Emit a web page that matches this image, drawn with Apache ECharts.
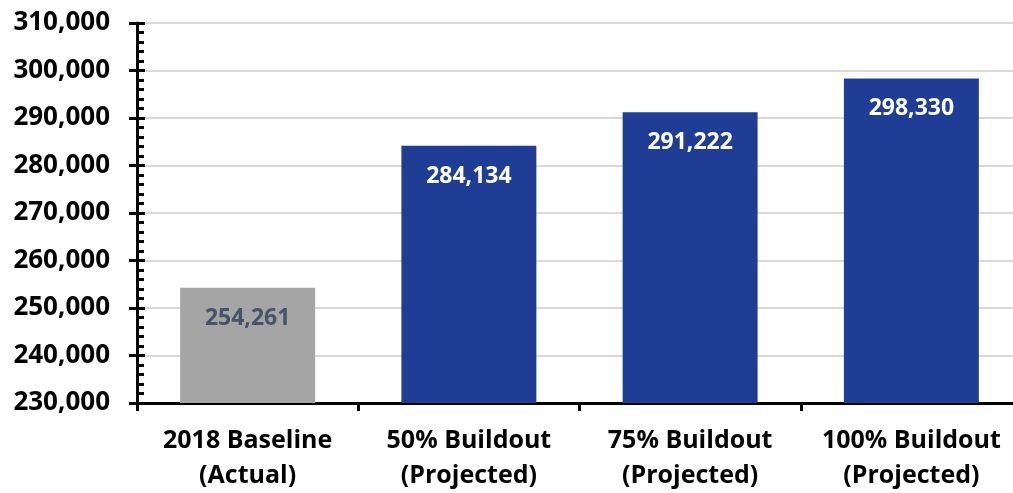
<!DOCTYPE html>
<html><head><meta charset="utf-8">
<script src="https://cdn.jsdelivr.net/npm/echarts@6/dist/echarts.min.js"></script>
<style>html,body{margin:0;padding:0;background:#fff;overflow:hidden;width:1013px;height:493px}#c{width:1030px;height:493px}</style>
</head><body><div id="c"></div>
<script>
var categories = ['2018 Baseline\n(Actual)', '50% Buildout\n(Projected)', '75% Buildout\n(Projected)', '100% Buildout\n(Projected)'];
var values = [254261, 284134, 291222, 298330];
var barColors = ['#a5a5a5', '#1f3d94', '#1f3d94', '#1f3d94'];
var labelColors = ['#44546a', '#ffffff', '#ffffff', '#ffffff'];
var yMin = 230000, yMax = 310000, yStep = 10000;

function fmt(v){ return v.toString().replace(/\B(?=(\d{3})+(?!\d))/g, ','); }

var chart = echarts.init(document.getElementById('c'));
var font = '"Open Sans", "Noto Sans", sans-serif';
chart.setOption({
  animation: false,
  grid: { left: 137, top: 23, height: 380, width: 885, containLabel: false },
  xAxis: {
    type: 'category', data: categories,
    axisLine: { lineStyle: { color: '#000', width: 3 } },
    axisTick: { show: true, length: 8, lineStyle: { color: '#000', width: 3 } },
    axisLabel: { fontFamily: font, fontWeight: 'bold', fontSize: 25, color: '#000', lineHeight: 35, margin: 20, interval: 0 }
  },
  yAxis: [{
    type: 'value', min: yMin, max: yMax, interval: yStep,
    axisLine: { show: true, lineStyle: { color: '#000', width: 3 } },
    axisTick: { show: true, length: 8, lineStyle: { color: '#000', width: 3 } },
    splitLine: { show: true, lineStyle: { color: '#d9d9d9', width: 2 } },
    axisLabel: { fontFamily: font, fontWeight: 'bold', fontSize: 26, color: '#000', margin: 27, formatter: fmt }
  }, {
    type: 'value', min: yMin, max: yMax, interval: yStep, position: 'left',
    axisLine: { show: false },
    axisTick: { show: true, inside: true, length: 8, lineStyle: { color: '#000', width: 3 } },
    minorTick: { show: true, splitNumber: 5, length: 7, lineStyle: { color: '#000', width: 3 } },
    splitLine: { show: false },
    axisLabel: { show: false }
  }],
  series: [{
    type: 'bar',
    barCategoryGap: '39%',
    data: values.map(function(v, i){
      return { value: v, itemStyle: { color: barColors[i] },
        label: { color: labelColors[i] } };
    }),
    label: { show: true, position: 'insideTop', distance: 19, fontFamily: font, fontWeight: 'bold', fontSize: 23,
      formatter: function(p){ return fmt(p.value); } }
  }]
});
</script></body></html>
